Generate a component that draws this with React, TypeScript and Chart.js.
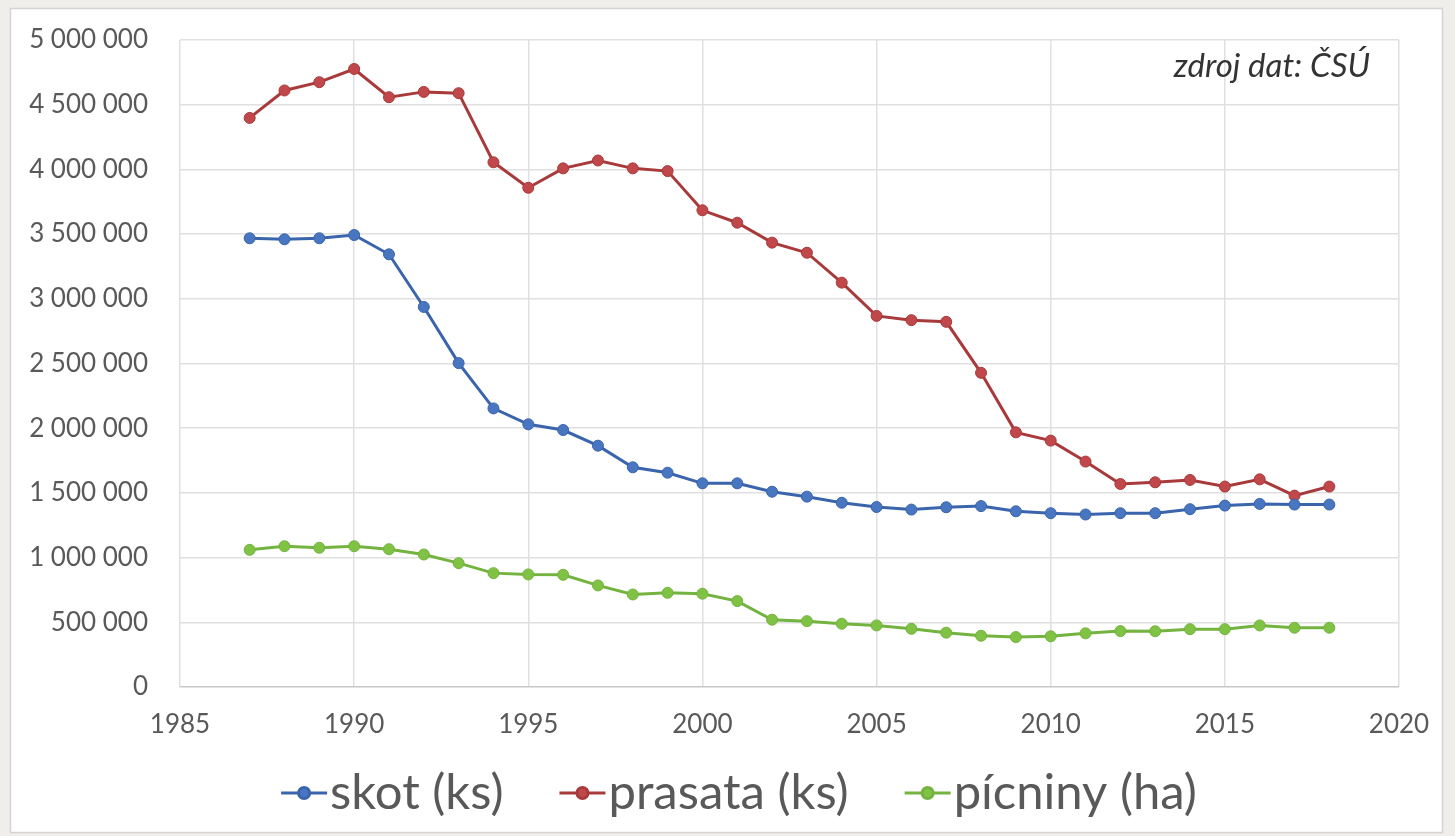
import React, { useEffect, useRef } from "react";
import { Chart, registerables } from "chart.js";

Chart.register(...registerables);

// Years of observation
const years = [
  1987, 1988, 1989, 1990, 1991, 1992, 1993, 1994, 1995, 1996, 1997, 1998, 1999, 2000, 2001, 2002,
  2003, 2004, 2005, 2006, 2007, 2008, 2009, 2010, 2011, 2012, 2013, 2014, 2015, 2016, 2017, 2018,
];

// Cattle (head)
const skot = [
  3468000, 3460000, 3468000, 3493000, 3344000, 2937000, 2503000, 2153000, 2030000, 1986000, 1865000,
  1698000, 1656000, 1574000, 1574000, 1509000, 1471000, 1424000, 1391000, 1371000, 1389000, 1398000,
  1358000, 1343000, 1333000, 1343000, 1343000, 1374000, 1402000, 1415000, 1410000, 1410000,
];

// Pigs (head)
const prasata = [
  4398000, 4610000, 4674000, 4776000, 4558000, 4599000, 4589000, 4055000, 3858000, 4008000, 4069000,
  4008000, 3987000, 3684000, 3588000, 3434000, 3356000, 3125000, 2868000, 2835000, 2822000, 2428000,
  1968000, 1904000, 1742000, 1569000, 1582000, 1600000, 1549000, 1605000, 1479000, 1549000,
];

// Fodder crops (hectares)
const picniny = [
  1060000, 1088000, 1076000, 1088000, 1065000, 1024000, 957000, 880000, 870000, 867000, 785000,
  715000, 728000, 721000, 664000, 520000, 509000, 489000, 476000, 450000, 420000, 396000,
  386000, 392000, 415000, 432000, 431000, 447000, 447000, 476000, 458000, 458000,
];

const seriesLabels = ["skot (ks)", "prasata (ks)", "pícniny (ha)"];
const lineColors = ["#3a64ab", "#a83a3b", "#74b33f"];
const markerColors = ["#4876c0", "#c0474a", "#7fc244"];

const sourceNote = "zdroj dat: ČSÚ";

const xMin = 1985;
const xMax = 2020;
const xStep = 5;
const yMin = 0;
const yMax = 5000000;
const yStep = 500000;

const W = 1455;
const H = 836;

const formatThousands = (v: number) =>
  String(Math.round(v)).replace(/\B(?=(\d{3})+(?!\d))/g, " ");

// Page background and white chart frame
const framePlugin = {
  id: "frame",
  beforeDraw(chart: Chart) {
    const ctx = chart.ctx;
    ctx.save();
    ctx.fillStyle = "#efeeea";
    ctx.fillRect(0, 0, W, H);
    ctx.fillStyle = "#ffffff";
    ctx.fillRect(10, 8, 1433, 825);
    ctx.strokeStyle = "#d4d4d4";
    ctx.lineWidth = 1.5;
    ctx.strokeRect(10.5, 8.5, 1432, 824);
    ctx.restore();
  },
};

// Source note and a line-with-marker legend below the axis
const annotationPlugin = {
  id: "annotations",
  afterDraw(chart: Chart) {
    const ctx = chart.ctx;
    ctx.save();

    ctx.font = "italic 33px Lato";
    ctx.fillStyle = "#333333";
    ctx.textAlign = "right";
    ctx.textBaseline = "middle";
    ctx.fillText(sourceNote, 1370, 66);

    ctx.font = "49px Lato";
    const markerW = 46;
    const gapMarkerText = 3;
    const gapItems = 56;
    const widths = seriesLabels.map((t) => ctx.measureText(t).width);
    const total =
      widths.reduce((a, b) => a + b, 0) +
      seriesLabels.length * (markerW + gapMarkerText) +
      (seriesLabels.length - 1) * gapItems;
    let x = 739 - total / 2;
    const y = 793;
    seriesLabels.forEach((label, i) => {
      ctx.strokeStyle = lineColors[i];
      ctx.lineWidth = 3;
      ctx.beginPath();
      ctx.moveTo(x, y);
      ctx.lineTo(x + markerW, y);
      ctx.stroke();
      ctx.fillStyle = markerColors[i];
      ctx.beginPath();
      ctx.arc(x + markerW / 2, y, 5.5, 0, Math.PI * 2);
      ctx.fill();
      ctx.stroke();
      x += markerW + gapMarkerText;
      ctx.fillStyle = "#595959";
      ctx.textAlign = "left";
      ctx.textBaseline = "middle";
      ctx.fillText(label, x, y);
      x += widths[i] + gapItems;
    });
    ctx.restore();
  },
};

export default function App() {
  const canvasRef = useRef<HTMLCanvasElement | null>(null);

  useEffect(() => {
    let chart: Chart | null = null;
    let cancelled = false;

    const build = () => {
      if (cancelled || !canvasRef.current) return;
      const series = [skot, prasata, picniny];
      chart = new Chart(canvasRef.current, {
        type: "line",
        data: {
          datasets: series.map((values, i) => ({
            label: seriesLabels[i],
            data: years.map((yr, j) => ({ x: yr, y: values[j] })),
            borderColor: lineColors[i],
            backgroundColor: markerColors[i],
            borderWidth: 3,
            pointRadius: 5.5,
            pointBorderWidth: 1,
            pointBackgroundColor: markerColors[i],
            pointBorderColor: lineColors[i],
            tension: 0,
            fill: false,
          })),
        },
        options: {
          responsive: false,
          animation: false,
          devicePixelRatio: 1,
          layout: { padding: { top: 40, right: 56, bottom: 89, left: 0 } },
          plugins: {
            legend: { display: false },
            tooltip: { enabled: false },
          },
          scales: {
            x: {
              type: "linear",
              min: xMin,
              max: xMax,
              border: { display: false },
              grid: { color: "#e0e0e0", lineWidth: 1.5, drawTicks: false },
              ticks: {
                stepSize: xStep,
                padding: 22,
                color: "#595959",
                font: { family: "Lato", size: 26 },
                callback: (v: any) => String(v),
                maxRotation: 0,
              },
              afterFit: (scale: any) => {
                scale.height = 60;
              },
            },
            y: {
              min: yMin,
              max: yMax,
              border: { display: false },
              grid: {
                color: (c: any) => (c.tick && c.tick.value === 0 ? "#c8c8c8" : "#e0e0e0"),
                lineWidth: 1.5,
                drawTicks: false,
              },
              ticks: {
                stepSize: yStep,
                padding: 32,
                color: "#595959",
                font: { family: "Lato", size: 26 },
                callback: (v: any) => formatThousands(Number(v)),
              },
              afterFit: (scale: any) => {
                scale.width = 180;
                scale.paddingTop = 0;
                scale.paddingBottom = 0;
              },
            },
          },
        },
        plugins: [framePlugin, annotationPlugin],
      });
    };

    const fontLoads = [
      "26px Lato",
      "49px Lato",
      "italic 33px Lato",
    ].map((f) => (document.fonts ? document.fonts.load(f).catch(() => null) : Promise.resolve(null)));
    Promise.all(fontLoads).then(build, build);

    return () => {
      cancelled = true;
      if (chart) chart.destroy();
    };
  }, []);

  return (
    <div style={{ position: "absolute", left: 0, top: 0, width: W, height: H }}>
      <canvas ref={canvasRef} width={W} height={H} style={{ display: "block", width: W, height: H }} />
    </div>
  );
}
